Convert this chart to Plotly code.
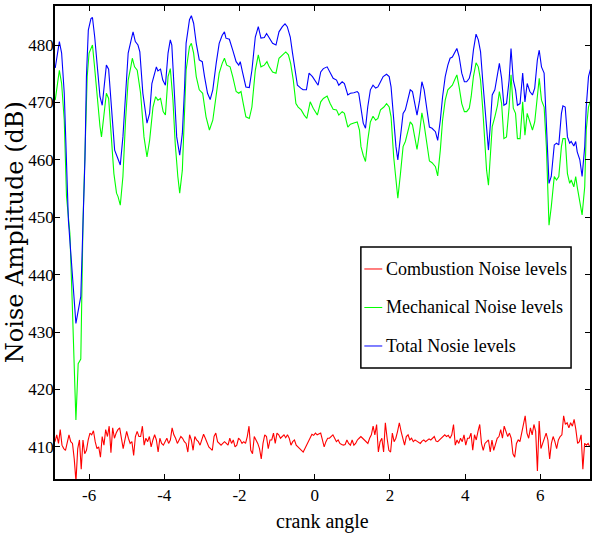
import numpy as np
import plotly.graph_objects as go

# ---------------- data ----------------
x_total = [-6.90, -6.79, -6.73, -6.66, -6.55, -6.46, -6.35, -6.22, -6.16, -6.11,
           -6.07, -6.02, -5.95, -5.91, -5.85, -5.77, -5.71, -5.65, -5.60, -5.54,
           -5.48, -5.40, -5.32, -5.25, -5.17, -5.10, -5.03, -4.96, -4.87, -4.83,
           -4.77, -4.70, -4.65, -4.57, -4.46, -4.39, -4.33, -4.21, -4.17, -4.10,
           -4.04, -3.97, -3.90, -3.84, -3.80, -3.73, -3.67, -3.59, -3.52, -3.46,
           -3.42, -3.33, -3.28, -3.22, -3.15, -3.07, -2.99, -2.93, -2.85, -2.78,
           -2.71, -2.62, -2.54, -2.46, -2.40, -2.36, -2.27, -2.18, -2.09, -2.02,
           -1.98, -1.92, -1.83, -1.74, -1.67, -1.58, -1.50, -1.43, -1.34, -1.28,
           -1.21, -1.12, -1.03, -0.95, -0.86, -0.79, -0.73, -0.65, -0.59, -0.52,
           -0.46, -0.37, -0.31, -0.22, -0.15, -0.06, 0.00, 0.09, 0.16, 0.23,
           0.33, 0.41, 0.49, 0.58, 0.64, 0.73, 0.79, 0.88, 0.95, 1.04,
           1.13, 1.17, 1.23, 1.29, 1.35, 1.41, 1.48, 1.55, 1.62, 1.68,
           1.75, 1.82, 1.91, 1.98, 2.03, 2.10, 2.16, 2.21, 2.28, 2.35,
           2.41, 2.48, 2.54, 2.60, 2.68, 2.72, 2.79, 2.85, 2.91, 2.98,
           3.05, 3.12, 3.21, 3.27, 3.34, 3.40, 3.47, 3.54, 3.60, 3.66,
           3.72, 3.78, 3.84, 3.91, 3.98, 4.04, 4.11, 4.16, 4.22, 4.29,
           4.35, 4.41, 4.47, 4.53, 4.57, 4.62, 4.66, 4.72, 4.79, 4.86,
           4.91, 4.97, 5.03, 5.10, 5.17, 5.22, 5.28, 5.34, 5.39, 5.46,
           5.53, 5.59, 5.65, 5.72, 5.79, 5.85, 5.92, 5.97, 6.03, 6.10,
           6.16, 6.23, 6.29, 6.37, 6.43, 6.49, 6.56, 6.60, 6.66, 6.72,
           6.78, 6.82, 6.89, 6.94, 6.98, 7.05, 7.11, 7.18, 7.22, 7.28, 7.34]
total_noise = [476.0, 480.6, 478.6, 471.6, 449.5, 441.4, 431.5, 436.2, 449.5, 460.0,
               474.5, 482.6, 484.6, 484.8, 481.4, 476.2, 471.0, 469.5, 472.7, 476.5,
               475.8, 468.7, 461.7, 460.5, 459.1, 464.0, 472.2, 478.6, 481.2, 482.3,
               480.6, 480.0, 478.8, 471.6, 466.4, 468.1, 473.3, 476.2, 475.5, 475.8,
               473.9, 473.0, 478.6, 480.9, 480.0, 471.0, 464.0, 460.8, 464.6, 472.7,
               480.3, 484.4, 485.1, 483.8, 480.3, 477.4, 477.1, 474.5, 471.6, 470.5,
               472.2, 476.8, 480.3, 481.7, 482.3, 481.2, 481.0, 479.1, 477.1, 476.5,
               477.1, 475.3, 472.7, 472.6, 475.6, 481.4, 483.2, 481.2, 481.3, 482.0,
               481.2, 480.3, 480.0, 482.3, 483.2, 483.7, 483.2, 481.4, 478.6, 475.1,
               473.0, 472.5, 472.2, 472.2, 475.1, 474.5, 473.9, 473.0, 475.3, 475.9,
               476.2, 475.1, 474.2, 473.9, 473.0, 473.6, 473.3, 471.3, 471.6, 471.7,
               471.9, 471.6, 468.7, 466.4, 465.5, 469.2, 472.2, 473.0, 472.5, 472.7,
               473.6, 474.5, 474.9, 474.5, 472.7, 466.4, 462.3, 460.0, 464.0, 468.1,
               468.7, 470.4, 472.2, 471.9, 469.2, 467.8, 470.4, 473.6, 472.2, 469.2,
               465.7, 465.5, 464.9, 463.4, 466.9, 471.0, 474.5, 476.5, 477.7, 477.9,
               478.8, 479.4, 478.0, 475.1, 473.6, 473.6, 474.2, 475.6, 479.1, 481.9,
               480.9, 478.8, 473.6, 468.1, 464.6, 461.7, 465.2, 471.3, 472.2, 475.1,
               476.8, 474.2, 469.5, 469.8, 473.9, 479.4, 473.9, 472.2, 469.5, 469.8,
               475.1, 470.1, 473.3, 471.9, 471.3, 472.5, 477.4, 479.1, 476.2, 475.1,
               466.9, 455.9, 457.1, 462.6, 462.9, 462.6, 468.1, 469.4, 469.2, 464.0,
               462.9, 463.2, 462.4, 463.2, 461.4, 460.0, 457.1, 462.3, 469.2, 474.5, 476.0]

x_mech = [-6.90, -6.79, -6.73, -6.66, -6.60, -6.55, -6.51, -6.45, -6.39, -6.35,
          -6.29, -6.22, -6.16, -6.11, -6.05, -6.00, -5.93, -5.91, -5.85, -5.77,
          -5.71, -5.67, -5.60, -5.54, -5.48, -5.40, -5.34, -5.27, -5.23, -5.17,
          -5.10, -5.03, -4.96, -4.89, -4.85, -4.79, -4.72, -4.63, -4.54, -4.46,
          -4.39, -4.30, -4.23, -4.17, -4.10, -4.03, -3.97, -3.90, -3.84, -3.77,
          -3.71, -3.64, -3.59, -3.52, -3.46, -3.42, -3.33, -3.28, -3.22, -3.15,
          -3.07, -2.98, -2.89, -2.80, -2.71, -2.62, -2.54, -2.46, -2.40, -2.34,
          -2.25, -2.18, -2.09, -2.02, -1.96, -1.90, -1.83, -1.74, -1.67, -1.58,
          -1.50, -1.43, -1.34, -1.27, -1.21, -1.12, -1.03, -0.95, -0.86, -0.77,
          -0.70, -0.64, -0.57, -0.50, -0.44, -0.36, -0.28, -0.21, -0.12, -0.04,
          0.07, 0.16, 0.23, 0.33, 0.41, 0.49, 0.58, 0.64, 0.73, 0.79,
          0.88, 0.95, 1.04, 1.13, 1.19, 1.23, 1.29, 1.35, 1.41, 1.48,
          1.55, 1.62, 1.68, 1.75, 1.84, 1.91, 1.98, 2.03, 2.10, 2.16,
          2.21, 2.28, 2.35, 2.41, 2.48, 2.54, 2.60, 2.68, 2.72, 2.79,
          2.85, 2.91, 2.98, 3.05, 3.12, 3.21, 3.27, 3.34, 3.40, 3.47,
          3.54, 3.60, 3.66, 3.72, 3.78, 3.84, 3.91, 3.98, 4.04, 4.11,
          4.16, 4.22, 4.29, 4.35, 4.41, 4.47, 4.53, 4.57, 4.62, 4.66,
          4.72, 4.79, 4.86, 4.91, 4.97, 5.03, 5.10, 5.17, 5.22, 5.28,
          5.34, 5.39, 5.46, 5.53, 5.59, 5.65, 5.72, 5.79, 5.85, 5.92,
          5.97, 6.03, 6.10, 6.16, 6.23, 6.29, 6.37, 6.43, 6.49, 6.56,
          6.60, 6.66, 6.72, 6.78, 6.82, 6.89, 6.94, 6.98, 7.05, 7.11, 7.18, 7.22, 7.28, 7.34]
mech_noise = [470.4, 475.6, 473.3, 466.9, 453.6, 449.5, 447.2, 435.6, 424.0, 414.7,
              424.5, 425.3, 449.5, 462.9, 474.5, 478.6, 479.8, 480.0, 475.9, 469.2,
              465.8, 464.0, 468.7, 471.6, 470.7, 464.0, 457.6, 454.2, 453.6, 452.1,
              457.1, 466.9, 473.9, 476.2, 477.7, 476.2, 475.6, 471.6, 464.0, 460.5,
              463.4, 469.2, 471.0, 470.4, 470.7, 468.4, 467.8, 474.5, 475.9, 470.4,
              462.9, 457.1, 454.2, 458.2, 468.0, 475.6, 479.7, 480.3, 478.6, 474.5,
              472.2, 471.6, 467.5, 465.2, 466.9, 471.6, 475.1, 476.8, 477.7, 476.5,
              476.2, 474.5, 471.9, 471.6, 471.9, 469.8, 467.5, 467.2, 469.2, 475.6,
              478.3, 476.2, 476.5, 477.1, 476.2, 475.3, 475.1, 477.7, 478.3, 478.8,
              478.3, 476.8, 473.9, 469.8, 469.2, 468.7, 467.8, 467.2, 470.1, 469.0,
              467.8, 470.1, 470.7, 471.1, 469.8, 468.8, 468.7, 467.8, 468.4, 468.1,
              465.7, 466.2, 466.4, 466.6, 465.2, 462.3, 460.8, 459.7, 463.4, 466.6,
              467.6, 466.9, 467.2, 468.7, 469.2, 469.8, 469.2, 467.5, 460.5, 456.5,
              453.3, 457.6, 462.3, 463.2, 464.9, 466.6, 466.1, 463.4, 461.8, 464.9,
              468.2, 466.1, 462.9, 459.8, 459.5, 458.8, 457.2, 461.7, 466.9, 470.4,
              472.2, 472.7, 473.0, 473.9, 474.8, 472.7, 469.8, 468.4, 468.4, 469.0,
              471.0, 474.5, 476.9, 476.2, 473.9, 468.7, 462.3, 458.2, 455.6, 460.0,
              465.8, 467.5, 469.5, 471.9, 469.8, 463.7, 464.0, 469.2, 474.8, 469.0,
              468.1, 463.7, 463.7, 470.1, 464.3, 468.1, 466.4, 465.2, 466.6, 471.3,
              474.2, 470.4, 469.2, 462.3, 448.6, 451.8, 457.1, 456.5, 457.1, 462.3,
              463.7, 463.7, 457.6, 455.9, 456.5, 455.3, 457.1, 455.3, 453.0, 450.4, 455.3, 465.2, 469.2, 470.5]

combustion_noise = [
    410.9, 412.1, 410.6, 413.0, 410.3, 409.7, 409.4, 410.9, 412.1, 410.9,
    410.6, 407.9, 404.0, 409.7, 411.2, 406.1, 411.2, 408.8, 409.4, 411.2,
    412.4, 412.1, 412.8, 410.9, 409.7, 410.0, 408.2, 411.8, 410.3, 413.0,
    411.8, 413.6, 409.0, 413.3, 411.5, 412.4, 413.0, 413.3, 411.2, 409.7,
    411.2, 412.7, 411.5, 410.6, 410.9, 408.5, 411.8, 412.7, 411.8, 411.8,
    413.6, 410.3, 411.5, 410.9, 411.8, 410.0, 411.2, 412.1, 411.2, 409.1,
    411.5, 410.6, 410.3, 410.9, 411.5, 410.6, 411.2, 413.3, 412.1, 411.5,
    410.6, 411.2, 411.8, 411.5, 410.9, 410.6, 409.1, 412.1, 411.2, 409.4,
    411.8, 411.2, 410.9, 410.3, 411.2, 412.2, 411.5, 410.6, 410.0, 409.7,
    409.4, 411.8, 412.4, 410.9, 410.6, 410.3, 410.6, 410.9, 410.6, 410.3,
    411.5, 410.6, 411.2, 410.0, 410.3, 411.5, 411.2, 410.6, 410.9, 410.6,
    411.8, 413.6, 409.4, 408.8, 411.8, 411.2, 410.6, 409.7, 407.9, 410.6,
    412.1, 411.8, 409.7, 411.2, 411.2, 412.4, 410.6, 412.4, 412.1, 411.5,
    411.8, 412.1, 411.6, 412.1, 411.5, 410.3, 410.9, 411.2, 410.3, 410.0,
    409.7, 409.4, 409.1, 409.7, 410.3, 410.9, 411.5, 412.2, 412.0, 412.4,
    412.1, 412.2, 412.4, 411.2, 410.0, 410.9, 411.5, 411.5, 411.8, 412.1,
    411.5, 410.9, 411.2, 410.6, 410.4, 410.3, 410.4, 411.2, 410.6, 410.3,
    411.2, 410.3, 410.6, 411.2, 411.5, 411.8, 411.5, 411.2, 410.9, 410.6,
    411.5, 412.1, 413.6, 412.1, 413.9, 409.1, 410.9, 411.5, 409.1, 414.2,
    411.5, 409.4, 409.1, 412.4, 410.9, 411.5, 412.7, 414.2, 412.7, 411.2,
    410.3, 411.8, 412.1, 411.2, 411.5, 410.9, 411.2, 411.0, 410.8, 410.6,
    411.0, 411.2, 410.9, 411.2, 411.4, 411.2, 411.5, 411.8, 411.0, 410.9,
    411.2, 411.5, 411.8, 412.1, 411.8, 412.0, 411.5, 412.1, 413.9, 410.3,
    411.2, 410.6, 411.5, 410.9, 412.1, 410.3, 411.5, 411.5, 412.4, 409.4,
    412.1, 411.2, 412.7, 413.9, 410.6, 409.4, 410.6, 410.9, 411.2, 409.1,
    411.2, 409.4, 410.6, 411.5, 411.8, 413.0, 411.5, 413.6, 412.7, 411.8,
    412.4, 411.5, 408.8, 408.2, 410.6, 411.2, 410.9, 412.4, 413.3, 415.4,
    412.4, 411.5, 413.3, 412.1, 413.9, 412.7, 405.8, 414.5, 409.7, 410.6,
    411.8, 412.4, 411.2, 407.9, 410.6, 411.8, 410.9, 409.7, 411.2, 411.8,
    412.1, 415.4, 413.9, 414.2, 413.3, 414.2, 413.6, 414.8, 413.0, 410.6,
    410.9, 412.1, 406.1, 410.6, 410.3, 410.6, 410.0]
x_comb = np.linspace(-6.906, 7.316, len(combustion_noise))

series_names = ["Combustion Noise levels", "Mechanical Noise levels", "Total Nosie levels"]
series_colors = ["#ff0000", "#00ff00", "#0000ff"]
x_ticks = [-6, -4, -2, 0, 2, 4, 6]
x_tick_text = ["-6", "-4", "-2", "0", "2", "4", "6"]
y_ticks = [410, 420, 430, 440, 450, 460, 470, 480]

assert len(x_total) == len(total_noise)
assert len(x_mech) == len(mech_noise)

# ---------------- figure ----------------
fig = go.Figure()
fig.add_trace(go.Scatter(x=x_comb, y=combustion_noise, mode="lines",
                         line=dict(color=series_colors[0], width=1.1), showlegend=False))
fig.add_trace(go.Scatter(x=x_mech, y=mech_noise, mode="lines",
                         line=dict(color=series_colors[1], width=1.1), showlegend=False))
fig.add_trace(go.Scatter(x=x_total, y=total_noise, mode="lines",
                         line=dict(color=series_colors[2], width=1.1), showlegend=False))

serif = "Liberation Serif"
axis_common = dict(showgrid=False, zeroline=False, showline=True, linecolor="black",
                   linewidth=1.5, mirror="ticks", ticks="inside", ticklen=5,
                   tickcolor="black", tickwidth=1,
                   tickfont=dict(family=serif, size=17, color="black"))

fig.update_layout(
    width=592, height=541,
    margin=dict(l=55, r=0, t=6, b=62),
    paper_bgcolor="white", plot_bgcolor="white",
    showlegend=False,
    xaxis=dict(range=[-6.906, 7.32], tickvals=x_ticks, ticktext=x_tick_text, **axis_common),
    yaxis=dict(range=[404.4, 486.8], tickvals=y_ticks, ticklabelstandoff=-4, **axis_common),
)

# axis titles
fig.add_annotation(text="crank angle", xref="paper", yref="paper", x=0.5, y=-0.089,
                   xanchor="center", yanchor="middle", showarrow=False,
                   font=dict(family=serif, size=20, color="black"))
fig.add_annotation(text="Noise Amplitude (dB)", xref="paper", yref="paper", x=-0.0745, y=0.522,
                   xanchor="center", yanchor="middle", textangle=-90, showarrow=False,
                   font=dict(family="DejaVu Serif", size=24, color="black"))

# legend box
fig.add_shape(type="rect", xref="paper", yref="paper", x0=0.5717, x1=0.9646, y0=0.2347, y1=0.4905,
              line=dict(color="black", width=1.5), fillcolor="white", layer="above")
leg_y = [0.444, 0.3626, 0.2812]
for name, color, yy in zip(series_names, series_colors, leg_y):
    fig.add_shape(type="line", xref="paper", yref="paper", x0=0.5782, x1=0.6117, y0=yy, y1=yy,
                  line=dict(color=color, width=1), layer="above")
    fig.add_annotation(text=name, xref="paper", yref="paper", x=0.6145, y=yy,
                       xanchor="left", yanchor="middle", showarrow=False,
                       font=dict(family=serif, size=18, color="black"))

fig.write_html("out.html")
